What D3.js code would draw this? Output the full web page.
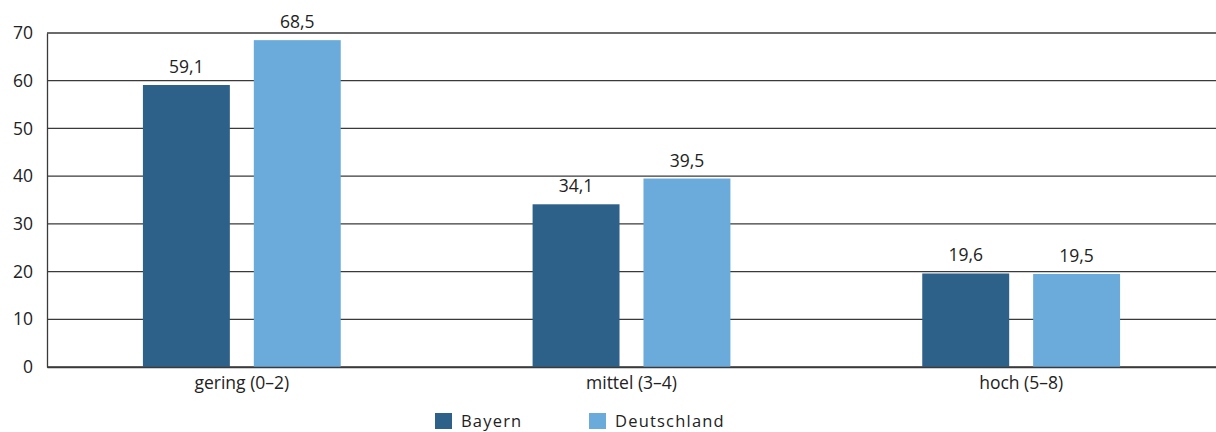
<!DOCTYPE html>
<html><head><meta charset="utf-8">
<script src="https://cdn.jsdelivr.net/npm/d3@7"></script>
<style>body{margin:0;background:#fff}text{font-family:"Open Sans","DejaVu Sans",sans-serif;fill:#222}</style>
</head><body><svg id="c" width="1216" height="432"></svg>
<script>
const categories = ["gering (0–2)", "mittel (3–4)", "hoch (5–8)"];
const series = ["Bayern", "Deutschland"];
const bayern = [59.1, 34.1, 19.6];
const deutschland = [68.5, 39.5, 19.5];
const yTicks = [0, 10, 20, 30, 40, 50, 60, 70];
const colors = ["#2e6189", "#6aabdc"];

const svg = d3.select("#c");
const m = {l: 47, r: 0, t: 33, b: 65};
const W = 1216, H = 432;
const x0 = d3.scaleBand().domain(categories).range([m.l, W - m.r]).paddingInner(0).paddingOuter(0);
const x1 = d3.scaleBand().domain(series).range([0, x0.bandwidth()]).paddingInner(0.216).paddingOuter(0.865);
const y = d3.scaleLinear().domain([0, 70]).range([H - m.b, m.t]);
const FS = 17.5;

svg.append("g").selectAll("line").data(yTicks).join("line")
  .attr("x1", m.l).attr("x2", W - m.r).attr("y1", d => y(d)).attr("y2", d => y(d))
  .attr("stroke", "#3a3a3a").attr("stroke-width", 1.3);
const ya = svg.append("g").attr("transform", `translate(${m.l},0)`).call(d3.axisLeft(y).tickValues(yTicks).tickSize(0).tickPadding(14));
ya.select(".domain").attr("stroke", "#3a3a3a").attr("stroke-width", 1.3);
ya.selectAll("text").attr("font-size", FS).attr("font-family", "'Open Sans','DejaVu Sans',sans-serif").attr("fill", "#222");

const data = categories.map((c, i) => ({c, vals: [bayern[i], deutschland[i]]}));
const g = svg.append("g").selectAll("g").data(data).join("g").attr("transform", d => `translate(${x0(d.c)},0)`);
g.selectAll("rect").data(d => d.vals.map((v, j) => ({s: series[j], v, j}))).join("rect")
  .attr("x", d => x1(d.s)).attr("width", x1.bandwidth())
  .attr("y", d => y(d.v)).attr("height", d => y(0) - y(d.v)).attr("fill", d => colors[d.j]);
g.selectAll("text.v").data(d => d.vals.map((v, j) => ({s: series[j], v, j}))).join("text")
  .attr("class", "v").attr("x", d => x1(d.s) + x1.bandwidth() / 2).attr("y", d => y(d.v) - 12)
  .attr("text-anchor", "middle").attr("font-size", FS)
  .text(d => d3.format(".1f")(d.v).replace(".", ","));

const xa = svg.append("g").attr("transform", `translate(0,${y(0)})`).call(d3.axisBottom(x0).tickSize(0).tickPadding(10));
xa.select(".domain").attr("stroke", "#3a3a3a").attr("stroke-width", 1.3);
xa.selectAll("text").attr("font-size", FS).attr("font-family", "'Open Sans','DejaVu Sans',sans-serif").attr("fill", "#222");

const legX = [435, 589];
const lg = svg.append("g").selectAll("g").data(series).join("g").attr("transform", (d, i) => `translate(${legX[i]},413)`);
lg.append("rect").attr("width", 17).attr("height", 16).attr("fill", (d, i) => colors[i]);
lg.append("text").attr("x", 26).attr("y", 14).attr("font-size", 16.5).attr("letter-spacing", 1.2).text(d => d);
</script></body></html>
